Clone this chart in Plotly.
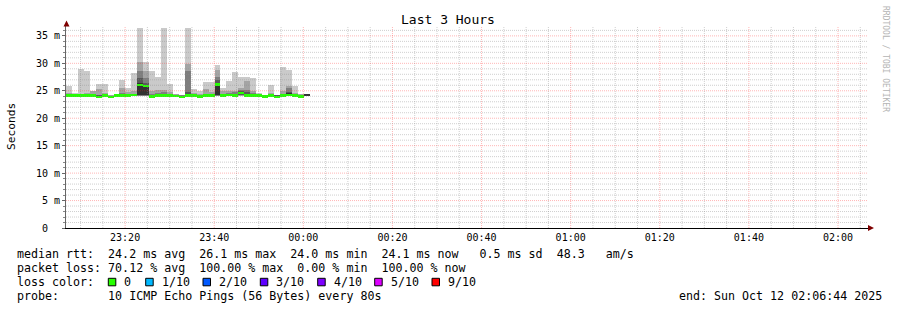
import plotly.graph_objects as go
from datetime import datetime, timedelta

# ---------------- data ----------------
END = datetime(2025, 10, 12, 2, 6, 44)
START = END - timedelta(hours=3)
STEP_S = 80  # seconds per sample

# sorted ping times (ms) for each 80 s sample (10 pings each)
pings = [
    [24.0, 24.1, 24.1, 24.1, 24.2, 24.2, 24.2, 24.3, 24.6, 25.8],
    [24.0, 24.1, 24.1, 24.2, 24.2, 24.2, 24.2, 24.3, 24.4, 24.6],
    [24.0, 24.1, 24.1, 24.1, 24.2, 24.2, 24.3, 24.3, 24.5, 29.0],
    [24.0, 24.1, 24.1, 24.2, 24.2, 24.2, 24.3, 24.4, 24.6, 28.6],
    [24.0, 24.1, 24.1, 24.2, 24.2, 24.2, 24.3, 24.4, 24.9, 25.0],
    [23.8, 23.9, 23.9, 24.0, 24.0, 24.0, 24.1, 24.3, 25.3, 26.2],
    [24.0, 24.1, 24.1, 24.2, 24.2, 24.2, 24.3, 24.4, 24.6, 26.2],
    [23.8, 23.9, 23.9, 23.9, 23.9, 24.0, 24.0, 24.0, 24.1, 24.2],
    [24.0, 24.1, 24.1, 24.2, 24.2, 24.2, 24.2, 24.3, 24.3, 24.4],
    [24.0, 24.1, 24.2, 24.2, 24.2, 24.3, 24.4, 24.6, 25.5, 27.0],
    [24.0, 24.1, 24.1, 24.2, 24.2, 24.2, 24.3, 24.4, 24.8, 25.5],
    [24.0, 24.1, 24.1, 24.2, 24.2, 24.3, 24.3, 24.5, 24.9, 28.3],
    [24.0, 24.0, 24.1, 24.2, 24.2, 26.4, 27.3, 28.6, 30.3, 36.5],
    [24.0, 24.0, 24.1, 24.2, 24.3, 26.0, 26.5, 27.4, 28.6, 30.3],
    [23.8, 23.9, 24.0, 24.0, 24.0, 24.1, 24.2, 24.4, 25.0, 28.6],
    [24.0, 24.1, 24.1, 24.2, 24.2, 24.3, 24.4, 24.6, 25.2, 27.5],
    [24.0, 24.1, 24.1, 24.2, 24.2, 24.3, 24.5, 24.8, 25.2, 36.5],
    [24.0, 24.1, 24.1, 24.2, 24.2, 24.2, 24.3, 24.4, 24.7, 26.2],
    [24.0, 24.1, 24.1, 24.1, 24.1, 24.2, 24.2, 24.2, 24.3, 24.3],
    [23.8, 23.9, 23.9, 23.9, 24.0, 24.0, 24.0, 24.1, 24.1, 24.2],
    [24.0, 24.1, 24.2, 24.2, 24.3, 24.4, 24.7, 28.6, 29.8, 36.5],
    [24.0, 24.1, 24.1, 24.2, 24.2, 24.2, 24.3, 24.4, 24.6, 25.3],
    [23.9, 23.9, 24.0, 24.0, 24.0, 24.0, 24.1, 24.2, 24.5, 25.0],
    [24.0, 24.1, 24.1, 24.2, 24.2, 24.2, 24.3, 24.5, 25.3, 26.6],
    [24.0, 24.1, 24.1, 24.2, 24.2, 24.2, 24.3, 24.4, 24.8, 26.6],
    [24.0, 24.0, 24.1, 24.2, 24.2, 26.5, 27.0, 27.6, 28.7, 29.7],
    [24.0, 24.1, 24.1, 24.2, 24.2, 24.2, 24.3, 24.5, 24.9, 25.5],
    [24.0, 24.1, 24.1, 24.2, 24.2, 24.3, 24.4, 24.6, 25.0, 26.8],
    [24.0, 24.1, 24.1, 24.2, 24.2, 24.3, 24.5, 24.8, 25.0, 28.4],
    [24.0, 24.1, 24.2, 24.3, 24.5, 24.7, 25.0, 25.2, 25.5, 27.5],
    [24.0, 24.1, 24.2, 24.2, 24.3, 24.4, 24.7, 25.2, 26.7, 27.5],
    [24.0, 24.1, 24.1, 24.2, 24.2, 24.2, 24.4, 24.6, 24.9, 27.4],
    [24.0, 24.1, 24.1, 24.1, 24.2, 24.2, 24.2, 24.3, 24.4, 24.6],
    [24.0, 24.0, 24.1, 24.1, 24.1, 24.1, 24.2, 24.2, 24.2, 24.3],
    [24.0, 24.1, 24.1, 24.2, 24.2, 24.2, 24.3, 24.4, 24.6, 26.0],
    [23.9, 23.9, 24.0, 24.0, 24.0, 24.0, 24.1, 24.1, 24.2, 24.3],
    [24.0, 24.1, 24.1, 24.2, 24.2, 24.2, 24.3, 24.5, 24.9, 29.3],
    [24.0, 24.1, 24.2, 24.2, 24.3, 24.5, 24.8, 25.5, 25.8, 28.8],
    [24.0, 24.1, 24.1, 24.2, 24.2, 24.2, 24.3, 24.4, 24.6, 25.9],
    [24.0, 24.1, 24.1, 24.1, 24.1, 24.2, 24.2, 24.2, 24.3, 24.3],
    [24.1, 24.1, 24.2, 24.2, 24.2, 24.3, 24.3, 24.3, 24.4, 24.4],
]

# median rtt (ms) per sample (None = no median drawn)
medians = [24.2, 24.2, 24.2, 24.2, 24.2, 23.95, 24.2, 23.95, 24.2, 24.2,
           24.2, 24.25, 26.1, 25.9, 24.0, 24.2, 24.2, 24.2, 24.1, 23.95,
           24.2, 24.2, 24.0, 24.2, 24.2, 26.2, 24.2, 24.3, 24.2, 24.6,
           24.2, 24.2, 24.2, 24.0, 24.2, 23.95, 24.2, 24.3, 24.2, 24.0,
           None]

smoke_colors = ["#cacaca", "#a4a4a4", "#7e7e7e", "#585858", "#323232"]
median_color = "#26ff00"

y_ticks = [0, 5, 10, 15, 20, 25, 30, 35]
y_ticktext = ["0\u00a0\u00a0", "5 m", "10 m", "15 m", "20 m", "25 m", "30 m", "35 m"]
Y_MAX = 36.8

loss_labels = ["0", "1/10", "2/10", "3/10", "4/10", "5/10", "9/10"]
loss_colors = ["#26ff00", "#00b8ff", "#0059ff", "#5e00ff", "#7e00ff", "#dd00ff", "#ff0000"]

legend_lines = [
    "median rtt:  24.2 ms avg  26.1 ms max  24.0 ms min  24.1 ms now   0.5 ms sd  48.3   am/s",
    "packet loss: 70.12 % avg  100.00 % max  0.00 % min  100.00 % now",
    "loss color:",
    "probe:       10 ICMP Echo Pings (56 Bytes) every 80s",
]
end_text = "end: Sun Oct 12 02:06:44 2025"

# ---------------- layout geometry ----------------
W, H = 897, 310
L, R, T, B = 66, 29, 26, 82
PW, PH = W - L - R, H - T - B
MONO = "DejaVu Sans Mono"
LEG_FS = 11.65


def px(xp):
    return (xp - L) / PW


def py(yp):
    return (T + PH - yp) / PH


n = len(pings)
xs = [START + timedelta(seconds=STEP_S * (i + 0.5)) for i in range(n)]
bar_w = STEP_S * 1000

fig = go.Figure()
for k, col in enumerate(smoke_colors):
    lo = [p[k] for p in pings]
    hi = [p[9 - k] for p in pings]
    fig.add_trace(go.Bar(x=xs, base=lo, y=[h - l for h, l in zip(hi, lo)], width=bar_w,
                         marker=dict(color=col, line=dict(width=0)), showlegend=False,
                         hoverinfo="skip"))

half = 0.17
fig.add_trace(go.Bar(x=xs, base=[m - half if m is not None else None for m in medians],
                     y=[2 * half if m is not None else None for m in medians], width=bar_w,
                     marker=dict(color=median_color, line=dict(width=0)), showlegend=False,
                     hoverinfo="skip"))

shapes = []
# grid (drawn above data like rrdtool)
minor_col = "rgba(140,140,140,0.42)"
major_col = "rgba(255,30,30,0.32)"
t = datetime(2025, 10, 11, 23, 10)
while t < END:
    major = (t.minute % 20 == 0)
    shapes.append(dict(type="line", xref="x", yref="paper", x0=t, x1=t, y0=0, y1=1, layer="above",
                       line=dict(color=major_col if major else minor_col, width=1, dash="1px,1px")))
    t += timedelta(minutes=5)
for v in range(1, 37):
    major = (v % 5 == 0)
    shapes.append(dict(type="line", xref="paper", yref="y", x0=0, x1=1, y0=v, y1=v, layer="above",
                       line=dict(color=major_col if major else minor_col, width=1, dash="1px,1px")))

# axis arrows
arrow_col = "#7f0000"
shapes.append(dict(type="path", xref="paper", yref="paper", layer="above",
                   path=f"M {px(63.5)} {py(26.5)} L {px(66.5)} {py(20.5)} L {px(69.5)} {py(26.5)} Z",
                   fillcolor=arrow_col, line=dict(width=0)))
shapes.append(dict(type="path", xref="paper", yref="paper", layer="above",
                   path=f"M {px(868)} {py(225)} L {px(874)} {py(228)} L {px(868)} {py(231)} Z",
                   fillcolor=arrow_col, line=dict(width=0)))

annotations = []
nb = lambda s: s.replace(" ", "\u00a0")

# y tick labels (placed on the y scale)
for v, txt in zip(y_ticks, y_ticktext):
    annotations.append(dict(text=nb(txt), xref="paper", yref="y", x=px(61), y=v,
                            xanchor="right", yanchor="middle", showarrow=False,
                            borderpad=0, font=dict(family=MONO, size=10, color="#000")))

legend_y = [254, 268, 282, 296]
for line, yy in zip(legend_lines, legend_y):
    annotations.append(dict(text=nb(line), xref="paper", yref="paper", x=px(15), y=py(yy),
                            xanchor="left", yanchor="middle", showarrow=False,
                            font=dict(family=MONO, size=LEG_FS, color="#000")))
annotations.append(dict(text=nb(end_text), xref="paper", yref="paper", x=px(677), y=py(296),
                        xanchor="left", yanchor="middle", showarrow=False,
                        font=dict(family=MONO, size=LEG_FS, color="#000")))

box_x = [108.3, 145.7, 203.0, 260.3, 317.7, 374.7, 432.0]
for bx, lab, col in zip(box_x, loss_labels, loss_colors):
    shapes.append(dict(type="rect", xref="paper", yref="paper",
                       x0=px(bx), x1=px(bx + 7.5), y0=py(285.8), y1=py(278.3),
                       fillcolor=col, line=dict(color="#000", width=1)))
    annotations.append(dict(text=nb(lab), xref="paper", yref="paper", x=px(bx + 14), y=py(282),
                            xanchor="left", yanchor="middle", showarrow=False,
                            font=dict(family=MONO, size=LEG_FS, color="#000")))

annotations.append(dict(text="Last 3 Hours", xref="paper", yref="paper", x=px(448), y=py(20),
                        xanchor="center", yanchor="middle", showarrow=False,
                        font=dict(family=MONO, size=13, color="#000")))
annotations.append(dict(text="Seconds", xref="paper", yref="paper", x=px(11), y=py(127),
                        xanchor="center", yanchor="middle", showarrow=False, textangle=-90,
                        font=dict(family=MONO, size=11.2, color="#000")))
annotations.append(dict(text=nb("RRDTOOL / TOBI OETIKER"), xref="paper", yref="paper", x=px(886),
                        y=py(59), xanchor="center", yanchor="middle", showarrow=False, textangle=90,
                        font=dict(family=MONO, size=8, color="#b4b4b4")))

fig.update_layout(
    width=W, height=H, margin=dict(l=L, r=R, t=T, b=B, pad=0),
    paper_bgcolor="#ffffff", plot_bgcolor="#ffffff",
    barmode="overlay", bargap=0, showlegend=False,
    shapes=shapes, annotations=annotations,
    xaxis=dict(type="date", range=[START, END], showgrid=False, zeroline=False,
               tickformat="%H:%M", dtick=20 * 60 * 1000, tick0="2025-10-11 23:20:00",
               ticks="", showline=True, linecolor="#000", linewidth=1,
               tickfont=dict(family=MONO, size=10, color="#000"), fixedrange=True),
    yaxis=dict(range=[0, Y_MAX], showgrid=False, zeroline=False,
               tickvals=y_ticks, showticklabels=False, ticks="outside", ticklen=3,
               tickcolor="#666", showline=True, linecolor="#666", linewidth=1,
               minor=dict(dtick=1, ticks="outside", ticklen=2, tickcolor="#888", showgrid=False),
               fixedrange=True),
)

fig.write_html("out.html")
